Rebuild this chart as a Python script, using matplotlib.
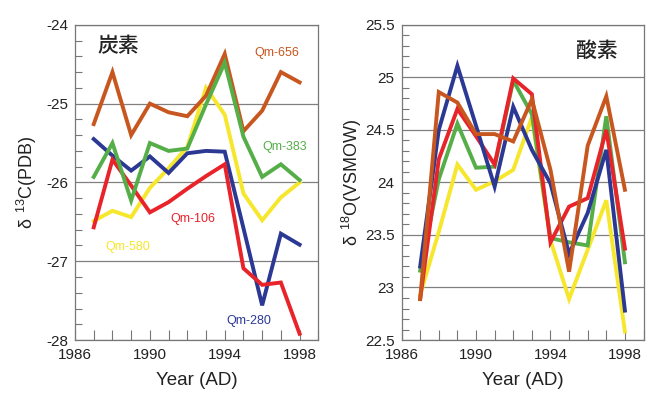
import matplotlib
matplotlib.use("Agg")
import matplotlib.pyplot as plt
from matplotlib.ticker import MultipleLocator, FuncFormatter

plt.rcParams['font.family'] = ['Liberation Sans', 'Noto Sans CJK JP', 'DejaVu Sans']

years = [1987, 1988, 1989, 1990, 1991, 1992, 1993, 1994, 1995, 1996, 1997, 1998]

# Carbon (delta 13C, PDB)
c_656 = [-25.26, -24.60, -25.40, -25.00, -25.11, -25.16, -24.90, -24.37, -25.35, -25.09, -24.60, -24.73]
c_383 = [-25.93, -25.50, -26.23, -25.50, -25.60, -25.57, -25.01, -24.48, -25.42, -25.93, -25.77, -25.97]
c_280 = [-25.45, -25.66, -25.85, -25.67, -25.88, -25.63, -25.60, -25.61, -26.58, -27.56, -26.65, -26.79]
c_106 = [-26.57, -25.71, -26.04, -26.38, -26.25, -26.08, -25.92, -25.77, -27.09, -27.30, -27.27, -27.92]
c_580 = [-26.49, -26.36, -26.44, -26.07, -25.82, -25.55, -24.80, -25.14, -26.14, -26.48, -26.19, -26.00]

# Oxygen (delta 18O, VSMOW)
o_656 = [22.89, 24.86, 24.76, 24.46, 24.46, 24.39, 24.79, 24.12, 23.15, 24.35, 24.82, 23.93]
o_383 = [23.16, 24.03, 24.56, 24.14, 24.15, 24.97, 24.65, 23.47, 23.43, 23.40, 24.63, 23.24]
o_280 = [23.20, 24.50, 25.11, 24.54, 23.96, 24.72, 24.31, 23.99, 23.32, 23.71, 24.31, 22.78]
o_106 = [22.89, 24.22, 24.70, 24.44, 24.17, 24.99, 24.84, 23.43, 23.77, 23.85, 24.50, 23.37]
o_580 = [22.93, 23.53, 24.17, 23.93, 24.01, 24.12, 24.62, 23.45, 22.89, 23.36, 23.83, 22.58]

labels = ["Qm-656", "Qm-383", "Qm-280", "Qm-106", "Qm-580"]
colors = ["#C8561F", "#55AE48", "#2B3894", "#E8232A", "#F6E62C"]

x_ticks = [1986, 1990, 1994, 1998]

fig = plt.figure(figsize=(6.54, 3.94), dpi=100)
ax1 = fig.add_axes([0.1147, 0.137, 0.372, 0.800])
ax2 = fig.add_axes([0.6140, 0.137, 0.370, 0.800])

def style(ax, ylim, major, minor):
    ax.set_xlim(1986, 1999)
    ax.set_ylim(*ylim)
    ax.set_xticks(x_ticks)
    ax.xaxis.set_minor_locator(MultipleLocator(1))
    ax.yaxis.set_major_locator(MultipleLocator(major))
    ax.yaxis.set_minor_locator(MultipleLocator(minor))
    ax.tick_params(axis='both', which='both', direction='in', colors='#777777',
                   labelcolor='#222222', labelsize=11, top=False, right=False)
    ax.tick_params(axis='x', which='major', length=7, width=0.8, pad=6)
    ax.tick_params(axis='x', which='minor', length=7, width=0.8)
    ax.tick_params(axis='y', which='major', length=0, pad=5)
    ax.tick_params(axis='y', which='minor', length=5, width=0.8)
    ax.grid(axis='y', which='major', color='#808080', linewidth=0.9)
    ax.set_axisbelow(True)
    for s in ax.spines.values():
        s.set_color('#777777')
        s.set_linewidth(0.9)
    ax.set_xlabel('Year (AD)', fontsize=13.5, labelpad=7, color='#222222')

style(ax1, (-28, -24), 1, 0.2)
style(ax2, (22.5, 25.5), 0.5, 0.1)
ax1.yaxis.set_major_formatter(FuncFormatter(lambda v, p: f"{int(round(v))}"))
ax2.yaxis.set_major_formatter(FuncFormatter(lambda v, p: f"{v:g}"))

c_series = [c_656, c_383, c_280, c_106, c_580]
o_series = [o_656, o_383, o_280, o_106, o_580]
for i in [4, 0, 2, 3, 1]:
    ax1.plot(years, c_series[i], color=colors[i], linewidth=2.8, solid_joinstyle='miter')
for i in [4, 1, 3, 2, 0]:
    ax2.plot(years, o_series[i], color=colors[i], linewidth=2.8, solid_joinstyle='miter')

# series labels on carbon panel
label_pos = {"Qm-656": (1996.8, -24.36), "Qm-383": (1997.2, -25.55),
             "Qm-280": (1995.3, -27.76), "Qm-106": (1992.3, -26.47),
             "Qm-580": (1988.8, -26.82)}
for lab, col in zip(labels, colors):
    x, y = label_pos[lab]
    ax1.text(x, y, lab, color=col, fontsize=9, ha='center', va='center')

ax1.text(1988.3, -24.27, '炭素', fontsize=15, ha='center', va='center',
         family=['Noto Sans CJK JP'], fontweight='medium', color='#222222')
ax2.text(1996.5, 25.25, '酸素', fontsize=15, ha='center', va='center',
         family=['Noto Sans CJK JP'], fontweight='medium', color='#222222')

ax1.set_ylabel(r'$\mathregular{\delta\ ^{13}C(PDB)}$', fontsize=13, labelpad=5, color='#222222')
ax2.set_ylabel(r'$\mathregular{\delta\ ^{18}O(VSMOW)}$', fontsize=13, labelpad=1, color='#222222')

fig.savefig('out.png', dpi=100)
